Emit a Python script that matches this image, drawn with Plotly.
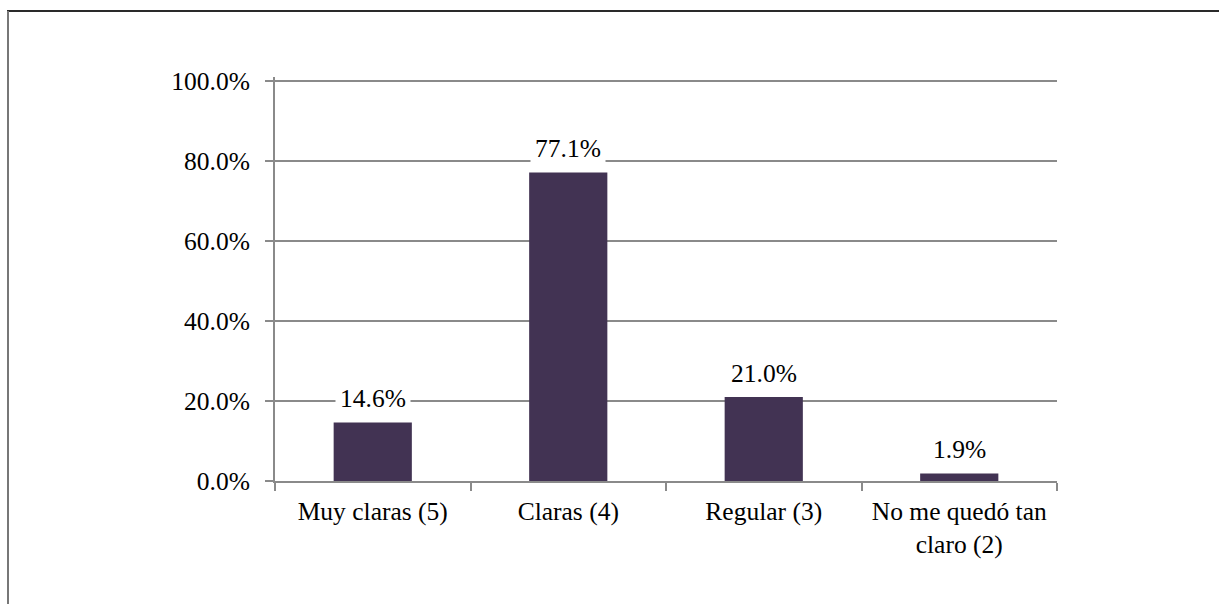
import plotly.graph_objects as go

# Survey answers and their share of responses
categories = ["Muy claras (5)", "Claras (4)", "Regular (3)", "No me quedó tan<br>claro (2)"]
shares = [0.146, 0.771, 0.210, 0.019]
y_ticks = [0.0, 0.2, 0.4, 0.6, 0.8, 1.0]

W, H = 1219, 604
Y_TOP = 1.01
L, R, B = 275, 162, 123
T = 81 - round((Y_TOP - 1.0) * 400)
plot_w = W - L - R
plot_h = H - T - B

FONT = dict(family="Liberation Serif", size=25.5, color="#000000")
BAR_COLOR = "#423353"
GRID = "#8a8a8a"

fig = go.Figure(
    go.Bar(
        x=categories,
        y=shares,
        marker=dict(color=BAR_COLOR, line=dict(width=0)),
        width=0.4,
        hoverinfo="skip",
    )
)

# Value labels sit above each bar on a white box that interrupts the gridlines
for cat, val in zip(categories, shares):
    fig.add_annotation(
        x=cat, y=val, xref="x", yref="y",
        text=f"{val * 100:.1f}%",
        showarrow=False,
        yanchor="middle", yshift=24,
        bgcolor="white", borderpad=4,
        font=FONT,
    )

# Outer frame: dark top edge and grey left edge
def px_x(p):
    return (p - L) / plot_w

def px_y(p):
    return (H - B - p) / plot_h

fig.add_shape(type="line", xref="paper", yref="paper",
              x0=px_x(7), x1=px_x(W), y0=px_y(11), y1=px_y(11),
              line=dict(color="#2a2a2a", width=2))
fig.add_shape(type="line", xref="paper", yref="paper",
              x0=px_x(8), x1=px_x(8), y0=px_y(11), y1=px_y(H),
              line=dict(color="#777777", width=2))

fig.update_layout(
    width=W, height=H,
    margin=dict(l=L, r=R, t=T, b=B, pad=0),
    paper_bgcolor="white",
    plot_bgcolor="white",
    showlegend=False,
    font=FONT,
    xaxis=dict(
        type="category",
        showline=True, linecolor=GRID, linewidth=2,
        ticks="outside", tickson="boundaries", ticklen=8, tickwidth=2, tickcolor=GRID,
        showgrid=False,
        tickfont=FONT,
        ticklabelstandoff=6,
    ),
    yaxis=dict(
        range=[0, Y_TOP],
        tickvals=y_ticks,
        tickformat=".1%",
        showline=True, linecolor=GRID, linewidth=2,
        ticks="outside", ticklen=8, tickwidth=2, tickcolor=GRID,
        showgrid=True, gridcolor=GRID, gridwidth=2,
        zeroline=False,
        tickfont=FONT,
        ticklabelstandoff=10,
    ),
)

fig.write_html("out.html")
